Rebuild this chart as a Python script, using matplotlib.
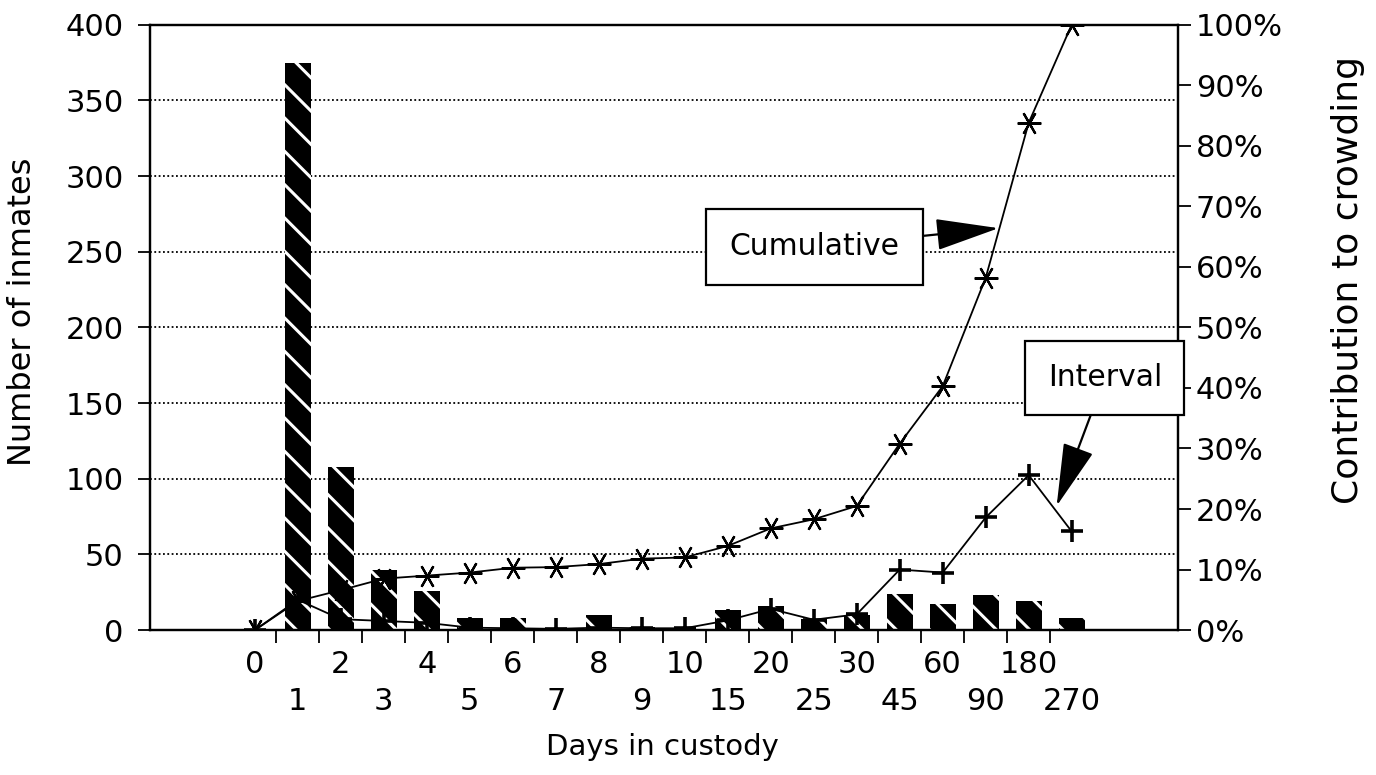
import matplotlib
matplotlib.use("Agg")
import matplotlib.pyplot as plt
import numpy as np

# categories (days in custody)
days = ["0", "1", "2", "3", "4", "5", "6", "7", "8", "9",
        "10", "15", "20", "25", "30", "45", "60", "90", "180", "270"]

# bars: number of inmates
inmates = [0, 375, 108, 40, 26, 8, 8, 1, 10, 2,
           1, 13, 16, 7, 10, 24, 17, 23, 19, 8]

# lines: contribution to crowding (%)
cumulative_pct = [0, 4.8, 6.6, 8.5, 9.0, 9.5, 10.3, 10.4, 10.9, 11.8,
                  12.0, 13.9, 16.8, 18.3, 20.5, 30.8, 40.3, 58.2, 83.8, 100]
interval_pct = [0, 5.0, 1.8, 1.5, 1.2, 0.4, 0.3, 0.2, 0.4, 0.3,
                0.3, 1.6, 3.5, 1.7, 2.6, 10.0, 9.5, 18.6, 25.6, 16.3]

left_ticks = list(range(0, 401, 50))
right_ticks = list(range(0, 101, 10))

plt.rcParams["font.family"] = "DejaVu Sans"
plt.rcParams["hatch.color"] = "white"
plt.rcParams["hatch.linewidth"] = 2.2

fig = plt.figure(figsize=(13.76, 7.75), dpi=100)
ax = fig.add_axes([0.109, 0.187, 0.747, 0.781])
x = np.arange(len(days))

# hatched bars
ax.bar(x, inmates, width=0.6, color="black", hatch="\\", linewidth=0, zorder=2)

ax.set_xlim(-2.44, 21.47)
ax.set_ylim(0, 400)
ax.set_yticks(left_ticks)
ax.tick_params(axis="y", length=9, width=1.3, labelsize=22, pad=10)
ax.yaxis.grid(True, linestyle=(0, (1, 1.4)), color="black", linewidth=1.3)
ax.set_axisbelow(True)

# two rows of tick labels: even categories on top, odd ones below
ax.set_xticks(x[::2])
ax.set_xticklabels(days[::2])
ax.tick_params(axis="x", which="major", length=0, pad=14, labelsize=22)
ax.set_xticks(np.arange(0.5, 19, 1), minor=True)
ax.tick_params(axis="x", which="minor", length=9, width=1.3, direction="out")

sec = ax.secondary_xaxis("bottom")
sec.set_xticks(x[1::2])
sec.set_xticklabels(days[1::2])
sec.tick_params(axis="x", length=0, pad=41, labelsize=22)
sec.spines["bottom"].set_visible(False)

for s in ax.spines.values():
    s.set_linewidth(1.6)

ax.set_ylabel("Number of inmates", fontsize=23)
ax.yaxis.label.set_va("center")
ax.yaxis.set_label_coords(-0.1245, 0.526)
ax.set_xlabel("Days in custody", fontsize=21)
ax.xaxis.label.set_va("center")
ax.xaxis.set_label_coords(0.4985, -0.193)

# right axis: percentages
ax2 = ax.twinx()
ax2.set_ylim(0, 100)
ax2.set_yticks(right_ticks)
ax2.set_yticklabels([f"{v}%" for v in right_ticks])
ax2.tick_params(axis="y", length=9, width=1.3, labelsize=22, pad=4)
for s in ax2.spines.values():
    s.set_linewidth(1.6)

ax2.plot(x, cumulative_pct, color="black", linewidth=1.3,
         marker=(6, 2, 90), markersize=17, markeredgewidth=1.6)
ax2.plot(x, interval_pct, color="black", linewidth=1.3,
         marker="+", markersize=16, markeredgewidth=2.6)

ax2.set_ylabel("Contribution to crowding", fontsize=26)
ax2.yaxis.label.set_va("center")
ax2.yaxis.set_label_coords(1.166, 0.579)

ax2.annotate("Cumulative", xy=(17.3, 66.4), xytext=(13.02, 63.3),
             ha="center", va="center", fontsize=21.5,
             bbox=dict(boxstyle="square,pad=0.8", fc="white", ec="black", lw=1.6),
             arrowprops=dict(arrowstyle="-|>,head_length=2.0,head_width=0.5",
                             color="black", lw=1.6, mutation_scale=20,
                             shrinkA=0, shrinkB=0))
ax2.annotate("Interval", xy=(18.65, 20.5), xytext=(19.77, 41.7),
             ha="center", va="center", fontsize=21.5, annotation_clip=False,
             bbox=dict(boxstyle="square,pad=0.75", fc="white", ec="black", lw=1.6),
             arrowprops=dict(arrowstyle="-|>,head_length=2.0,head_width=0.5",
                             color="black", lw=1.6, mutation_scale=20,
                             shrinkA=0, shrinkB=0))

fig.savefig("out.png", dpi=100)
